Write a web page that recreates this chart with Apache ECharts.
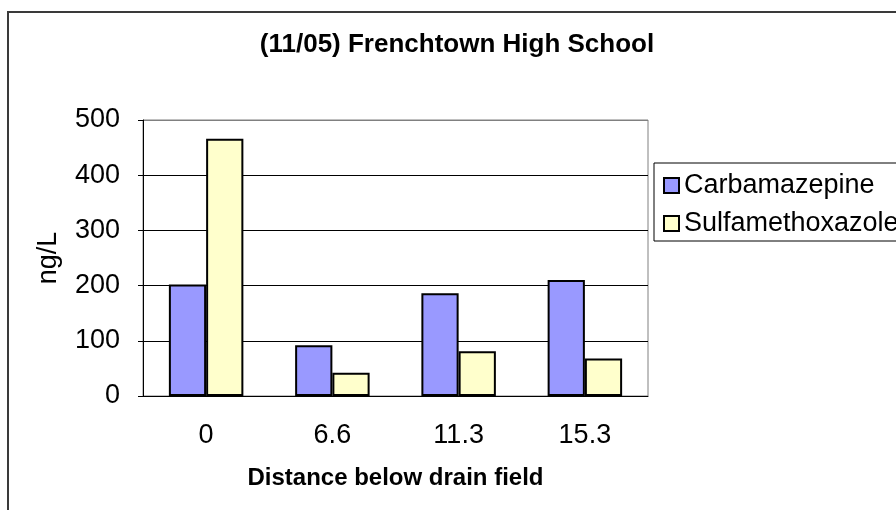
<!DOCTYPE html>
<html>
<head>
<meta charset="utf-8">
<script src="https://cdn.jsdelivr.net/npm/echarts@6/dist/echarts.min.js"></script>
<style>
  html, body { margin: 0; padding: 0; background: #fff; }
  #chart { width: 896px; height: 510px; }
</style>
</head>
<body>
<div id="chart"></div>
<script>
// values
var categories = ["0", "6.6", "11.3", "15.3"];
var carbamazepine = [202, 92, 186, 210];
var sulfamethoxazole = [466, 42, 81, 68];
var seriesNames = ["Carbamazepine", "Sulfamethoxazole"];

var font = "'Liberation Sans', Arial, sans-serif";

var myChart = echarts.init(document.getElementById("chart"));

var options = {
  animation: false,
  backgroundColor: "#fff",
  textStyle: { fontFamily: font, color: "#000" },
  title: {
    text: "(11/05) Frenchtown High School",
    left: 457,
    top: 32,
    padding: 0,
    textAlign: "center",
    textStyle: { fontFamily: font, fontSize: 26, fontWeight: "bold", color: "#000" }
  },
  legend: {
    data: seriesNames,
    orient: "vertical",
    left: 654,
    top: 163,
    padding: [9, 10, 4, 9],
    itemGap: 11,
    itemWidth: 15,
    itemHeight: 15,
    icon: "rect",
    borderColor: "#000",
    borderWidth: 1,
    textStyle: { fontFamily: font, fontSize: 27, color: "#000" }
  },
  grid: {
    left: 143,
    top: 120,
    right: 248,
    bottom: 114,
    show: true,
    borderColor: "#808080",
    borderWidth: 1
  },
  xAxis: {
    type: "category",
    data: categories,
    name: "Distance below drain field",
    nameLocation: "middle",
    nameGap: 70,
    nameTextStyle: { fontFamily: font, fontSize: 24, fontWeight: "bold", color: "#000" },
    axisLine: { lineStyle: { color: "#000", width: 1 } },
    axisTick: { length: 6, lineStyle: { color: "#000" } },
    axisLabel: { fontFamily: font, fontSize: 27, color: "#000", margin: 26 }
  },
  yAxis: {
    type: "value",
    min: 0,
    max: 500,
    interval: 100,
    name: "ng/L",
    nameLocation: "middle",
    nameGap: 81,
    nameTextStyle: { fontFamily: font, fontSize: 27, color: "#000" },
    axisLine: { show: true, lineStyle: { color: "#000", width: 1 } },
    axisTick: { show: true, length: 5, lineStyle: { color: "#000" } },
    axisLabel: { fontFamily: font, fontSize: 27, color: "#000", margin: 23 },
    splitLine: {
      lineStyle: { color: ["#000", "#000", "#000", "#000", "#000", "#808080"], width: 1 }
    }
  },
  series: [
    {
      name: seriesNames[0],
      type: "bar",
      data: carbamazepine,
      barGap: "0%",
      barCategoryGap: "41%",
      itemStyle: { color: "#9999ff", borderColor: "#000", borderWidth: 2 }
    },
    {
      name: seriesNames[1],
      type: "bar",
      data: sulfamethoxazole,
      barGap: "0%",
      barCategoryGap: "41%",
      itemStyle: { color: "#ffffcc", borderColor: "#000", borderWidth: 2 }
    }
  ],
  graphic: [
    {
      // outer chart frame, runs off the right and bottom edges
      type: "rect",
      silent: true,
      z: 100,
      shape: { x: 8, y: 12, width: 1000, height: 1000 },
      style: { fill: "none", stroke: "#3a3a3a", lineWidth: 2 }
    }
  ]
};

myChart.setOption(options);
</script>
</body>
</html>
